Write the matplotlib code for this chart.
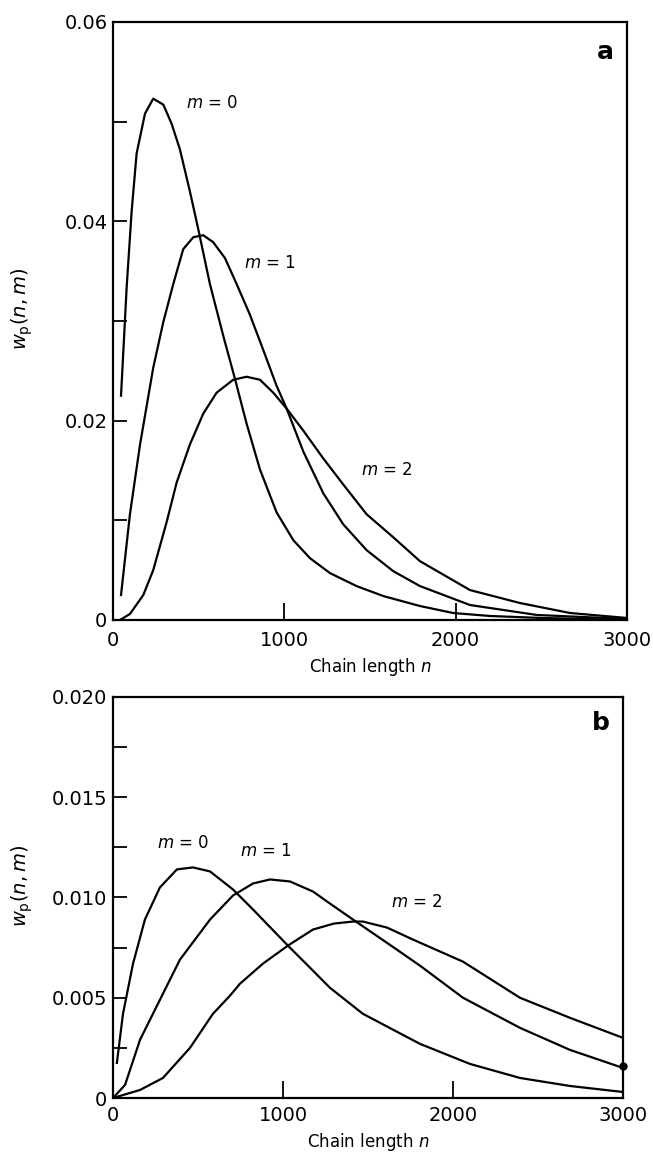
import numpy as np
import matplotlib
matplotlib.use("Agg")
import matplotlib.pyplot as plt
from matplotlib.ticker import FixedLocator

# =========================
# DATA
# =========================

# panel a
a_n_m0 = [47, 80, 109, 138, 187, 235, 294, 342, 391, 449, 498, 566, 644, 712, 780, 858, 955, 1053,
          1150, 1267, 1422, 1578, 1792, 1985, 2200, 2500, 3000]
a_w_m0 = [0.0225, 0.0334, 0.0410, 0.0468, 0.0508, 0.0523, 0.0517, 0.0498, 0.0472, 0.0430, 0.0392, 0.0337,
          0.0285, 0.0242, 0.0197, 0.0151, 0.0108, 0.0080, 0.0062, 0.0047, 0.0034, 0.0024, 0.0014, 0.0007,
          0.0004, 0.0002, 0.0000]

a_n_m1 = [47, 99, 158, 235, 294, 352, 410, 469, 527, 585, 654, 722, 800, 877, 955, 1014, 1111, 1228,
          1344, 1481, 1636, 1792, 2084, 2475, 3000]
a_w_m1 = [0.0025, 0.0106, 0.0176, 0.0253, 0.0299, 0.0337, 0.0372, 0.0384, 0.0386, 0.0379, 0.0363, 0.0337,
          0.0306, 0.0271, 0.0235, 0.0212, 0.0169, 0.0127, 0.0096, 0.0070, 0.0049, 0.0034, 0.0015, 0.0005,
          0.0001]

a_n_m2 = [41, 99, 177, 235, 313, 372, 449, 527, 605, 702, 780, 858, 936, 1014, 1111, 1228, 1344, 1481,
          1636, 1792, 2084, 2376, 2668, 3000]
a_w_m2 = [0.0000, 0.0006, 0.0025, 0.0050, 0.0098, 0.0138, 0.0176, 0.0207, 0.0228, 0.0241, 0.0244, 0.0241,
          0.0228, 0.0212, 0.0190, 0.0162, 0.0136, 0.0106, 0.0083, 0.0059, 0.0030, 0.0017, 0.0007, 0.0002]

# panel b
b_n_m0 = [23, 59, 118, 188, 276, 376, 471, 571, 706, 824, 1029, 1159, 1276, 1470, 1806, 2100, 2394,
          2688, 3000]
b_w_m0 = [0.00175, 0.0042, 0.0067, 0.0089, 0.0105, 0.0114, 0.0115, 0.0113, 0.0104, 0.0094, 0.0076,
          0.0065, 0.0055, 0.0042, 0.0027, 0.0017, 0.0010, 0.0006, 0.0003]

b_n_m1 = [0, 71, 159, 294, 394, 571, 706, 824, 924, 1041, 1176, 1276, 1412, 1670, 1806, 2059, 2394,
          2688, 3000]
b_w_m1 = [0.0, 0.00065, 0.0029, 0.0052, 0.0069, 0.0089, 0.0101, 0.0107, 0.0109, 0.0108, 0.0103, 0.0097,
          0.0089, 0.0074, 0.0066, 0.0050, 0.0035, 0.0024, 0.0015]

b_n_m2 = [0, 159, 294, 453, 588, 688, 747, 882, 1029, 1176, 1300, 1412, 1470, 1612, 1765, 2059, 2394,
          2688, 3000]
b_w_m2 = [0.0, 0.0004, 0.0010, 0.0025, 0.0042, 0.0051, 0.0057, 0.0067, 0.0076, 0.0084, 0.0087, 0.0088,
          0.0088, 0.0085, 0.0079, 0.0068, 0.0050, 0.0040, 0.0030]

x_ticks = [0, 1000, 2000, 3000]

# curve labels: (text, n, w)
a_labels = [("$m$ = 0", 578, 0.0519), ("$m$ = 1", 916, 0.0358), ("$m$ = 2", 1600, 0.0150)]
b_labels = [("$m$ = 0", 412, 0.0127), ("$m$ = 1", 900, 0.0123), ("$m$ = 2", 1788, 0.0098)]

# =========================
# PLOT
# =========================

plt.rcParams["font.family"] = "DejaVu Sans"
plt.rcParams["mathtext.fontset"] = "dejavusans"

fig = plt.figure(figsize=(6.53, 11.53), dpi=100)
ax_a = fig.add_axes([0.173, 0.4623, 0.787, 0.5187])
ax_b = fig.add_axes([0.173, 0.0477, 0.781, 0.3478])

lw = 1.6
for ax, data in [(ax_a, [(a_n_m0, a_w_m0), (a_n_m1, a_w_m1), (a_n_m2, a_w_m2)]),
                 (ax_b, [(b_n_m0, b_w_m0), (b_n_m1, b_w_m1), (b_n_m2, b_w_m2)])]:
    for n, w in data:
        ax.plot(n, w, color="black", lw=lw, solid_joinstyle="round")

# dot at end of m=1 in panel b
ax_b.plot([b_n_m1[-1]], [b_w_m1[-1] + 0.0001], "o", color="black", ms=5, clip_on=False)

for txt, n, w in a_labels:
    ax_a.text(n, w, txt, ha="center", va="center", fontsize=12)
for txt, n, w in b_labels:
    ax_b.text(n, w, txt, ha="center", va="center", fontsize=12)

ax_a.text(0.975, 0.97, "a", transform=ax_a.transAxes, ha="right", va="top",
          fontsize=18, fontweight="bold")
ax_b.text(0.975, 0.965, "b", transform=ax_b.transAxes, ha="right", va="top",
          fontsize=18, fontweight="bold")

# axes styling
ax_a.set_xlim(0, 3000)
ax_a.set_ylim(0, 0.06)
ax_a.yaxis.set_major_locator(FixedLocator([0, 0.02, 0.04, 0.06]))
ax_a.yaxis.set_minor_locator(FixedLocator([0.01, 0.03, 0.05]))
ax_a.set_yticklabels(["0", "0.02", "0.04", "0.06"])

ax_b.set_xlim(0, 3000)
ax_b.set_ylim(0, 0.02)
ax_b.yaxis.set_major_locator(FixedLocator([0, 0.005, 0.010, 0.015, 0.020]))
ax_b.yaxis.set_minor_locator(FixedLocator([0.0025, 0.0075, 0.0125, 0.0175]))
ax_b.set_yticklabels(["0", "0.005", "0.010", "0.015", "0.020"])

for ax, xpad in [(ax_a, 8), (ax_b, 6)]:
    ax.xaxis.set_major_locator(FixedLocator(x_ticks))
    ax.set_xticklabels([str(t) for t in x_ticks])
    for s in ax.spines.values():
        s.set_linewidth(1.6)
    ax.tick_params(axis="y", which="both", direction="in", length=10, width=1.3,
                   labelsize=14, pad=4)
    ax.tick_params(axis="x", which="major", direction="in", length=12, width=1.3,
                   labelsize=14, pad=xpad)
    ax.set_xlabel("Chain length $n$", fontsize=12, labelpad=4)
    ax.set_ylabel(r"$w_\mathrm{p}(n, m)$", fontsize=14)

ax_a.yaxis.set_label_coords(-0.152, 0.52)
ax_b.yaxis.set_label_coords(-0.153, 0.53)

fig.savefig("out.png", dpi=100)
